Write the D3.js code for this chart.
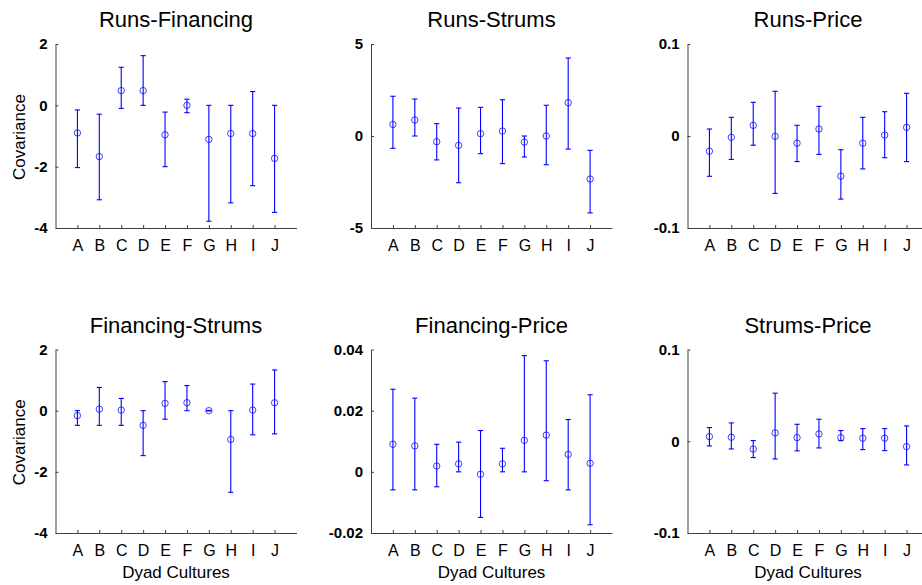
<!DOCTYPE html>
<html>
<head>
<meta charset="utf-8">
<script src="https://cdn.jsdelivr.net/npm/d3@7"></script>
<style>
  html, body { margin: 0; padding: 0; background: #fff; }
  svg { display: block; font-family: "Liberation Sans", Arial, Helvetica, sans-serif; }
</style>
</head>
<body>
<svg id="chart" width="922" height="585"></svg>
<script>
// Dyad cultures along the x axis
const categories = ["A", "B", "C", "D", "E", "F", "G", "H", "I", "J"];

// Panel titles
const titles = ["Runs-Financing", "Runs-Strums", "Runs-Price",
                "Financing-Strums", "Financing-Price", "Strums-Price"];

// Covariance estimates and their interval bounds, one set per dyad pair
const runsFinancingMean  = [-0.90, -1.67, 0.48, 0.48, -0.96, 0.00, -1.11, -0.92, -0.92, -1.73];
const runsFinancingLow   = [-2.03, -3.08, -0.10, 0.00, -2.00, -0.24, -3.78, -3.18, -2.62, -3.49];
const runsFinancingHigh  = [-0.15, -0.29, 1.24, 1.62, -0.22, 0.20, 0.00, 0.00, 0.45, 0.00];

const runsStrumsMean     = [0.63, 0.87, -0.31, -0.51, 0.13, 0.27, -0.33, 0.00, 1.81, -2.34];
const runsStrumsLow      = [-0.67, 0.00, -1.30, -2.54, -0.96, -1.50, -1.14, -1.56, -0.71, -4.18];
const runsStrumsHigh     = [2.16, 2.01, 0.67, 1.52, 1.56, 1.97, 0.00, 1.67, 4.24, -0.78];

const runsPriceMean      = [-0.0165, -0.0014, 0.0116, -0.0004, -0.0078, 0.0076, -0.0436, -0.0078, 0.0010, 0.0094];
const runsPriceLow       = [-0.0438, -0.0255, -0.0100, -0.0624, -0.0278, -0.0200, -0.0686, -0.0358, -0.0236, -0.0278];
const runsPriceHigh      = [0.0076, 0.0203, 0.0366, 0.0486, 0.0116, 0.0322, -0.0149, 0.0203, 0.0264, 0.0464];

const financingStrumsMean = [-0.16, 0.05, 0.02, -0.48, 0.24, 0.26, 0.00, -0.94, 0.02, 0.26];
const financingStrumsLow  = [-0.48, -0.48, -0.48, -1.47, -0.28, 0.00, -0.01, -2.67, -0.79, -0.76];
const financingStrumsHigh = [0.00, 0.76, 0.40, 0.00, 0.95, 0.82, 0.01, 0.00, 0.87, 1.33];

const financingPriceMean = [0.0090, 0.0085, 0.0019, 0.0026, -0.0008, 0.0026, 0.0103, 0.0120, 0.0057, 0.0028];
const financingPriceLow  = [-0.0059, -0.0059, -0.0049, 0.0000, -0.0149, 0.0000, 0.0000, -0.0029, -0.0059, -0.0173];
const financingPriceHigh = [0.0270, 0.0241, 0.0090, 0.0097, 0.0135, 0.0077, 0.0380, 0.0363, 0.0171, 0.0252];

const strumsPriceMean    = [0.0051, 0.0044, -0.0085, 0.0091, 0.0040, 0.0080, 0.0040, 0.0033, 0.0033, -0.0058];
const strumsPriceLow     = [-0.0051, -0.0084, -0.0178, -0.0193, -0.0105, -0.0073, 0.0007, -0.0091, -0.0102, -0.0258];
const strumsPriceHigh    = [0.0149, 0.0200, 0.0007, 0.0524, 0.0185, 0.0240, 0.0116, 0.0138, 0.0138, 0.0167];

// Y tick values and their printed labels for each panel
const yTicks = [
  [-4, -2, 0, 2],
  [-5, 0, 5],
  [-0.1, 0, 0.1],
  [-4, -2, 0, 2],
  [-0.02, 0, 0.02, 0.04],
  [-0.1, 0, 0.1]
];
const yTickLabels = [
  ["-4", "-2", "0", "2"],
  ["-5", "0", "5"],
  ["-0.1", "0", "0.1"],
  ["-4", "-2", "0", "2"],
  ["-0.02", "0", "0.02", "0.04"],
  ["-0.1", "0", "0.1"]
];

const means = [runsFinancingMean, runsStrumsMean, runsPriceMean,
               financingStrumsMean, financingPriceMean, strumsPriceMean];
const lows  = [runsFinancingLow, runsStrumsLow, runsPriceLow,
               financingStrumsLow, financingPriceLow, strumsPriceLow];
const highs = [runsFinancingHigh, runsStrumsHigh, runsPriceHigh,
               financingStrumsHigh, financingPriceHigh, strumsPriceHigh];

const yLabel = "Covariance";
const xLabel = "Dyad Cultures";

// Axes boxes for the 2x3 grid
const axW = 241;
const boxes = [
  { left: 55.5, top: 44,  bottom: 228 },
  { left: 371,  top: 44,  bottom: 228 },
  { left: 687.5, top: 44, bottom: 228 },
  { left: 55.5, top: 349.5, bottom: 533 },
  { left: 371,  top: 349.5, bottom: 533 },
  { left: 687.5, top: 349.5, bottom: 533 }
];

const blue = "#0000ff";
const axisColor = "#404040";
const svg = d3.select("#chart");

boxes.forEach((b, p) => {
  const g = svg.append("g");
  const ticks = yTicks[p];
  const x = d3.scaleLinear().domain([0, categories.length + 1]).range([b.left, b.left + axW]);
  const y = d3.scaleLinear().domain([ticks[0], ticks[ticks.length - 1]]).range([b.bottom, b.top]);

  // Left axis: ticks pointing inward
  const yAxis = d3.axisLeft(y).tickValues(ticks)
    .tickFormat((d, i) => yTickLabels[p][i])
    .tickSizeInner(-3).tickSizeOuter(0).tickPadding(8);
  const ya = g.append("g").attr("transform", `translate(${b.left},0)`).call(yAxis);
  ya.select(".domain").attr("stroke", axisColor);
  ya.selectAll(".tick line").attr("stroke", axisColor);
  ya.selectAll(".tick text")
    .attr("font-size", 15).attr("font-weight", "bold")
    .attr("fill", "#000").attr("font-family", "Liberation Sans, Arial, sans-serif");

  // Bottom axis: category ticks pointing inward
  const xAxis = d3.axisBottom(x)
    .tickValues(categories.map((c, i) => i + 1))
    .tickFormat((d) => categories[d - 1])
    .tickSizeInner(-3).tickSizeOuter(0).tickPadding(12);
  const xa = g.append("g").attr("transform", `translate(0,${b.bottom})`).call(xAxis);
  xa.select(".domain").attr("stroke", axisColor);
  xa.selectAll(".tick line").attr("stroke", axisColor);
  xa.selectAll(".tick text")
    .attr("font-size", 16).attr("fill", "#000")
    .attr("font-family", "Liberation Sans, Arial, sans-serif");

  // Error bars
  const cap = 2.6;
  const bars = g.append("g").selectAll("g").data(categories).join("g");
  bars.append("line")
    .attr("x1", (d, i) => x(i + 1)).attr("x2", (d, i) => x(i + 1))
    .attr("y1", (d, i) => y(lows[p][i])).attr("y2", (d, i) => y(highs[p][i]))
    .attr("stroke", blue).attr("stroke-width", 1.1);
  bars.append("line")
    .attr("x1", (d, i) => x(i + 1) - cap).attr("x2", (d, i) => x(i + 1) + cap)
    .attr("y1", (d, i) => y(highs[p][i])).attr("y2", (d, i) => y(highs[p][i]))
    .attr("stroke", blue).attr("stroke-width", 1.1);
  bars.append("line")
    .attr("x1", (d, i) => x(i + 1) - cap).attr("x2", (d, i) => x(i + 1) + cap)
    .attr("y1", (d, i) => y(lows[p][i])).attr("y2", (d, i) => y(lows[p][i]))
    .attr("stroke", blue).attr("stroke-width", 1.1);
  bars.append("circle")
    .attr("cx", (d, i) => x(i + 1)).attr("cy", (d, i) => y(means[p][i]))
    .attr("r", 3.2).attr("fill", "none")
    .attr("stroke", blue).attr("stroke-opacity", 0.75).attr("stroke-width", 1);

  // Title
  g.append("text")
    .attr("x", b.left + axW / 2).attr("y", b.top - 17)
    .attr("text-anchor", "middle").attr("font-size", 22).attr("fill", "#000")
    .text(titles[p]);

  // Axis labels on the outer panels
  if (p % 3 === 0) {
    g.append("text")
      .attr("transform", `translate(25,${(b.top + b.bottom) / 2 + 1}) rotate(-90)`)
      .attr("text-anchor", "middle").attr("font-size", 17).attr("fill", "#000")
      .text(yLabel);
  }
  if (p >= 3) {
    g.append("text")
      .attr("x", b.left + axW / 2).attr("y", 578)
      .attr("text-anchor", "middle").attr("font-size", 17).attr("fill", "#000")
      .text(xLabel);
  }
});
</script>
</body>
</html>
